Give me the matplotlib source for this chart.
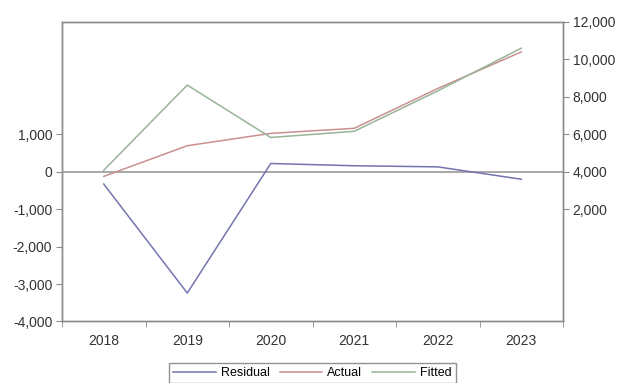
import matplotlib.pyplot as plt
from matplotlib.ticker import FuncFormatter, FixedLocator

plt.rcParams['font.family'] = ['Liberation Sans', 'DejaVu Sans']

# annual series: actual, fitted and residual
years = [2018, 2019, 2020, 2021, 2022, 2023]
actual = [3750, 5390, 6050, 6320, 8450, 10400]
fitted = [4080, 8630, 5830, 6160, 8320, 10600]
residual = [-330, -3240, 220, 160, 130, -200]

left_ticks = [-4000, -3000, -2000, -1000, 0, 1000]
right_ticks = [2000, 4000, 6000, 8000, 10000, 12000]

c_resid = '#7474b0'
c_actual = '#c99090'
c_fitted = '#98b498'
c_axis = '#8c8c8c'

fig = plt.figure(figsize=(6.17, 3.83), dpi=100)
ax = fig.add_axes([0.1005, 0.1606, 0.812, 0.782])
ax2 = ax.twinx()

# residual on the left scale, with a zero line
ax.axhline(0, color='#9a9a9a', lw=1.2, zorder=1)
l1, = ax.plot(years, residual, color=c_resid, lw=1.1, label='Residual')
ax.set_ylim(-4000, 4000)
ax.set_yticks(left_ticks)
ax.yaxis.set_major_formatter(FuncFormatter(lambda v, p: f'{int(v):,}'))

# actual and fitted on the right scale
l2, = ax2.plot(years, actual, color=c_actual, lw=1.1, label='Actual')
l3, = ax2.plot(years, fitted, color=c_fitted, lw=1.1, label='Fitted')
ax2.set_ylim(-4000, 12000)
ax2.set_yticks(right_ticks)
ax2.yaxis.set_major_formatter(FuncFormatter(lambda v, p: f'{int(v):,}'))

ax.set_xlim(2017.5, 2023.5)
ax.set_xticks(years)
ax.xaxis.set_minor_locator(FixedLocator([y + 0.5 for y in [2017] + years]))
ax.tick_params(axis='x', which='major', length=0, pad=9)
ax.tick_params(axis='x', which='minor', length=4, direction='out', color=c_axis)

for a in (ax, ax2):
    for s in a.spines.values():
        s.set_color(c_axis)
        s.set_linewidth(1.0)
    a.tick_params(axis='y', length=4, color=c_axis, labelsize=10,
                  labelcolor='#333333', pad=3)
ax.tick_params(axis='x', labelsize=10, labelcolor='#333333')

leg = fig.legend(handles=[l1, l2, l3], loc='upper center',
                 bbox_to_anchor=(0.506, 0.053), borderaxespad=0, ncol=3,
                 frameon=True, fancybox=False, edgecolor='#777777',
                 fontsize=9, handlelength=3.4, handletextpad=0.4,
                 columnspacing=0.8, borderpad=0.35)
leg.get_frame().set_linewidth(1.0)

fig.savefig('out.png', dpi=100)
